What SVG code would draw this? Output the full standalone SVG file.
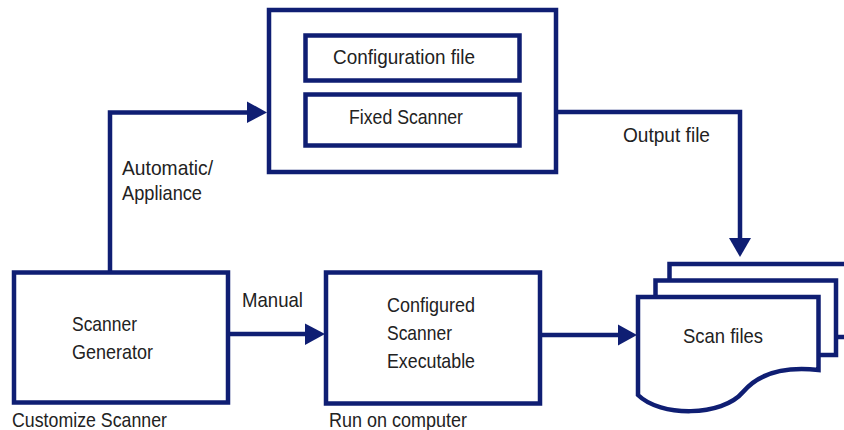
<svg xmlns="http://www.w3.org/2000/svg" width="844" height="430" viewBox="0 0 844 430">
<defs>
<style>
.box{fill:#ffffff;stroke:#0f1e73;stroke-width:4.5}
.ln{fill:none;stroke:#0f1e73;stroke-width:4.5}
.ah{fill:#0f1e73}
text{font-family:"Liberation Sans",Arial,sans-serif;font-size:21px;fill:#222222}
</style>
</defs>
<rect width="844" height="430" fill="#ffffff"/>
<g id="connectors">
<polyline class="ln" points="110,272 110,112.5 249,112.5"/>
<polygon class="ah" points="247,101.5 267,112.5 247,123"/>
<polyline class="ln" points="556,112 740,112 740,240"/>
<polygon class="ah" points="729,238 751,238 740,257"/>
<line class="ln" x1="228" y1="334" x2="307" y2="334"/>
<polygon class="ah" points="305,323.5 325,334 305,345"/>
<line class="ln" x1="540" y1="335" x2="620" y2="335"/>
<polygon class="ah" points="618,324.5 637,335 618,345.5"/>
</g>
<g id="top-box">
<rect class="box" x="269" y="10" width="287" height="162"/>
</g>
<g id="configuration-file">
<rect class="box" x="305.5" y="35.5" width="214" height="45"/>
<text x="333" y="63.5" textLength="142" lengthAdjust="spacingAndGlyphs">Configuration file</text>
</g>
<g id="fixed-scanner">
<rect class="box" x="305.5" y="94.5" width="214" height="51"/>
<text x="349" y="123.5" textLength="114" lengthAdjust="spacingAndGlyphs">Fixed Scanner</text>
</g>
<g id="scanner-generator">
<rect class="box" x="14" y="272.5" width="214" height="130"/>
<text x="72" y="331" textLength="65" lengthAdjust="spacingAndGlyphs">Scanner</text>
<text x="72" y="359" textLength="81" lengthAdjust="spacingAndGlyphs">Generator</text>
</g>
<g id="configured-scanner">
<rect class="box" x="326" y="272.5" width="214" height="131"/>
<text x="387" y="311.5" textLength="88" lengthAdjust="spacingAndGlyphs">Configured</text>
<text x="387" y="340" textLength="65" lengthAdjust="spacingAndGlyphs">Scanner</text>
<text x="387" y="367.5" textLength="88" lengthAdjust="spacingAndGlyphs">Executable</text>
</g>
<g id="scan-files">
<rect class="box" x="669.5" y="264" width="200" height="73"/>
<rect class="box" x="655.5" y="280.5" width="180.5" height="74.5"/>
<path class="box" d="M638,297 H818.5 V370 C800,368 764,367 743,392 C722,417 660,417 638,395 Z"/>
<text x="683" y="343" textLength="80" lengthAdjust="spacingAndGlyphs">Scan files</text>
</g>
<g id="labels">
<text x="122" y="175" textLength="91" lengthAdjust="spacingAndGlyphs">Automatic/</text>
<text x="122" y="200" textLength="80" lengthAdjust="spacingAndGlyphs">Appliance</text>
<text x="623" y="142" textLength="87" lengthAdjust="spacingAndGlyphs">Output file</text>
<text x="242" y="306.5" textLength="61" lengthAdjust="spacingAndGlyphs">Manual</text>
<text x="12" y="426.5" textLength="155" lengthAdjust="spacingAndGlyphs">Customize Scanner</text>
<text x="329" y="426.5" textLength="138" lengthAdjust="spacingAndGlyphs">Run on computer</text>
</g>
</svg>
